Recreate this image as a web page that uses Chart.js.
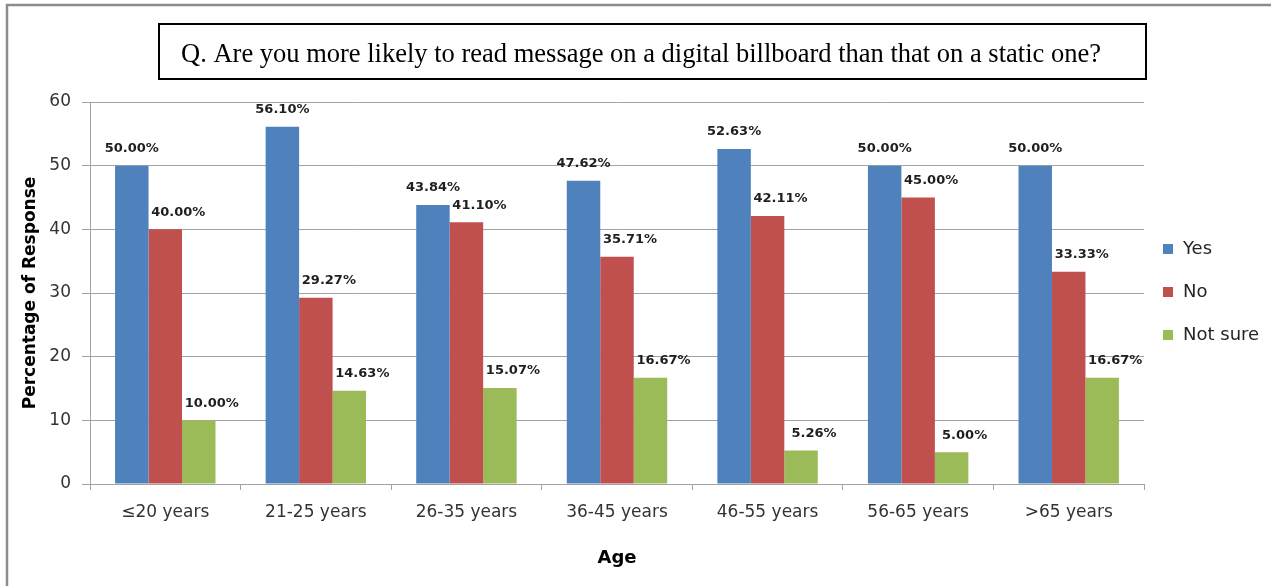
<!DOCTYPE html>
<html>
<head>
<meta charset="utf-8">
<title>Digital vs static billboard</title>
<script src="https://cdn.jsdelivr.net/npm/chart.js@4/dist/chart.umd.min.js"></script>
<style>
  html, body { margin: 0; padding: 0; background: #fff; }
  #chart { display: block; }
</style>
</head>
<body>
<canvas id="chart" width="1271" height="586"></canvas>
<script>
// ─── Dados ────────────────────────────────────────────────────────────────
const titleText  = 'Q. Are you more likely to read message on a digital billboard than that on a static one?';
const categories = ['≤20 years', '21-25 years', '26-35 years', '36-45 years', '46-55 years', '56-65 years', '>65 years'];
const seriesNames = ['Yes', 'No', 'Not sure'];
const yesValues     = [50.00, 56.10, 43.84, 47.62, 52.63, 50.00, 50.00];
const noValues      = [40.00, 29.27, 41.10, 35.71, 42.11, 45.00, 33.33];
const notSureValues = [10.00, 14.63, 15.07, 16.67,  5.26,  5.00, 16.67];
const yTicks = [0, 10, 20, 30, 40, 50, 60];

const colors = ['#4F81BD', '#C0504D', '#9BBB59'];
const gridColor = '#a3a3a3';

// ─── Moldura, caixa do título e legenda ───────────────────────────────────
const framePlugin = {
  id: 'frame',
  beforeDraw(chart) {
    const c = chart.ctx;
    c.save();
    c.fillStyle = '#fff';
    c.fillRect(0, 0, chart.width, chart.height);
    c.strokeStyle = '#8c8c8c';
    c.lineWidth = 2.5;
    c.strokeRect(7, 5, chart.width + 20, chart.height + 20);
    c.restore();
  },
  afterDraw(chart) {
    const c = chart.ctx;
    c.save();
    // caixa do título
    c.strokeStyle = '#000';
    c.lineWidth = 2;
    c.strokeRect(159, 24, 987, 55);
    c.fillStyle = '#000';
    c.font = '26.5px "Liberation Serif", "Times New Roman", serif';
    c.textAlign = 'center';
    c.textBaseline = 'alphabetic';
    c.fillText(titleText, 641, 62);

    // legenda à direita
    const area = chart.chartArea;
    const midY = (area.top + area.bottom) / 2;
    c.font = '18px "DejaVu Sans", sans-serif';
    c.textAlign = 'left';
    c.textBaseline = 'middle';
    chart.data.datasets.forEach((ds, i) => {
      const y = midY + (i - 1) * 43 - 1;
      c.fillStyle = ds.backgroundColor;
      c.fillRect(1163, y - 5, 10, 10);
      c.fillStyle = '#262626';
      c.fillText(ds.label, 1183, y);
    });
    c.restore();
  }
};

// ─── Rótulos de valor sobre as barras ─────────────────────────────────────
const valueLabels = {
  id: 'valueLabels',
  afterDatasetsDraw(chart) {
    const c = chart.ctx;
    c.save();
    c.font = 'bold 13px "DejaVu Sans", sans-serif';
    c.fillStyle = '#1f1f1f';
    c.textAlign = 'center';
    c.textBaseline = 'middle';
    chart.data.datasets.forEach((ds, i) => {
      const meta = chart.getDatasetMeta(i);
      const shift = i === 0 ? 0 : 13;
      meta.data.forEach((bar, j) => {
        c.fillText(ds.data[j].toFixed(2) + '%', bar.x + shift, bar.y - 17);
      });
    });
    c.restore();
  }
};

const seriesValues = [yesValues, noValues, notSureValues];

new Chart(document.getElementById('chart'), {
  type: 'bar',
  data: {
    labels: categories,
    datasets: seriesNames.map((name, i) => ({
      label: name,
      data: seriesValues[i],
      backgroundColor: colors[i],
      borderWidth: 0,
      categoryPercentage: 0.667,
      barPercentage: 1.0
    }))
  },
  options: {
    responsive: false,
    animation: false,
    layout: { padding: { top: 102, left: 0, right: 127, bottom: 0 } },
    plugins: {
      legend: { display: false },
      title: { display: false },
      tooltip: { enabled: false }
    },
    scales: {
      x: {
        grid: { drawOnChartArea: false, drawTicks: true, tickLength: 6, color: gridColor },
        border: { color: gridColor, width: 1 },
        ticks: { color: '#333', padding: 12, font: { family: 'DejaVu Sans', size: 17 } },
        title: {
          display: true, text: 'Age', color: '#000',
          font: { family: 'DejaVu Sans', size: 18, weight: 'bold' },
          padding: { top: 0, bottom: 17 }
        },
        afterFit(scale) { scale.height = 102; }
      },
      y: {
        min: 0,
        max: 60,
        afterBuildTicks(scale) { scale.ticks = yTicks.map(v => ({ value: v })); },
        grid: { color: gridColor, tickLength: 8, lineWidth: 1 },
        border: { color: gridColor, width: 1 },
        ticks: { color: '#333', padding: 11, font: { family: 'DejaVu Sans', size: 17 } },
        title: {
          display: true, text: 'Percentage of Response', color: '#000',
          font: { family: 'DejaVu Sans', size: 17, weight: 'bold' },
          padding: { top: 20, bottom: 0 }
        },
        afterFit(scale) { scale.width = 90; }
      }
    }
  },
  plugins: [framePlugin, valueLabels]
});
</script>
</body>
</html>
